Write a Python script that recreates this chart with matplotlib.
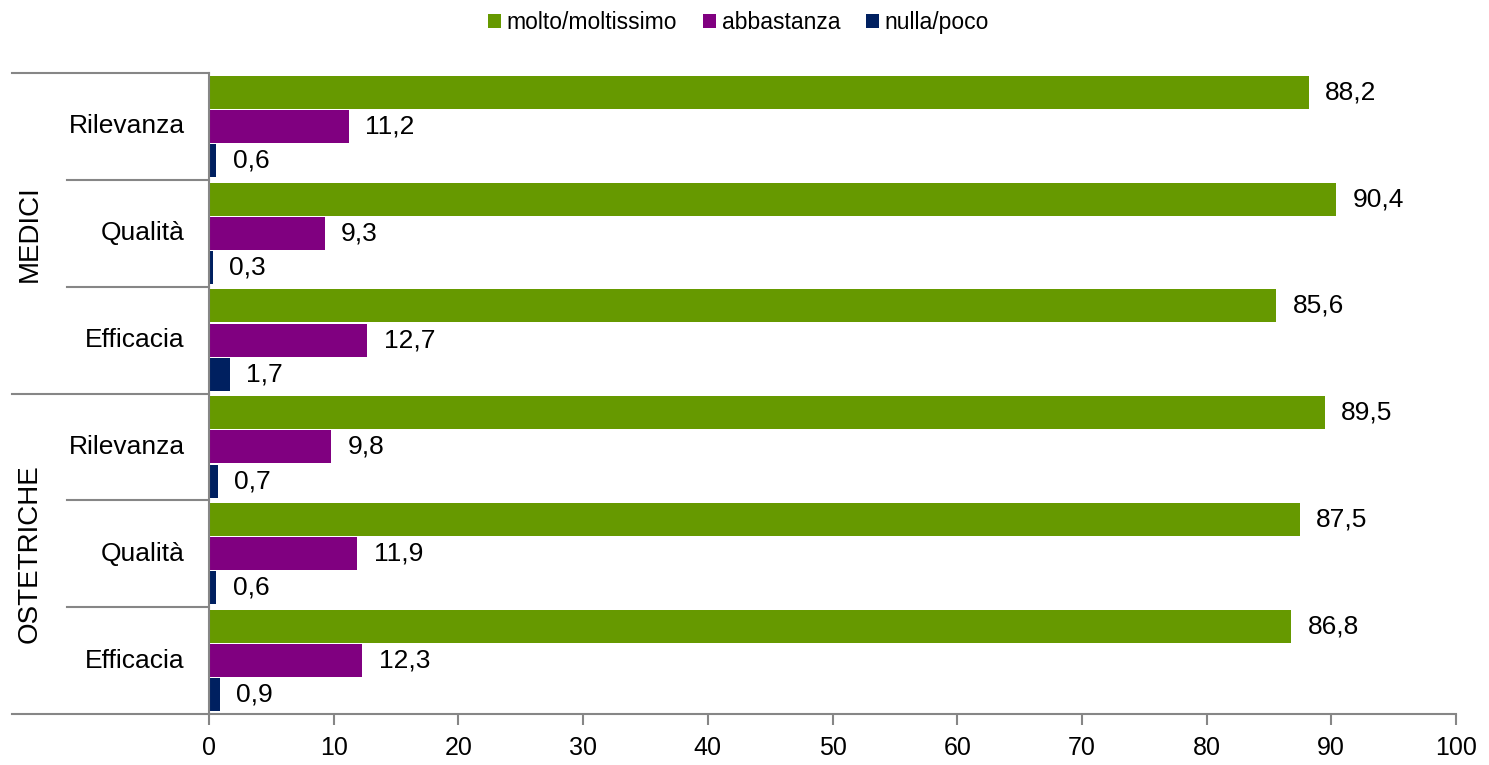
import numpy as np
import matplotlib
matplotlib.use("Agg")
import matplotlib.pyplot as plt
import matplotlib.transforms as mtransforms

plt.rcParams['font.family'] = ['Liberation Sans', 'DejaVu Sans']

groups = ["MEDICI", "OSTETRICHE"]
categories = ["Rilevanza", "Qualità", "Efficacia", "Rilevanza", "Qualità", "Efficacia"]
series = ["molto/moltissimo", "abbastanza", "nulla/poco"]
molto = [88.2, 90.4, 85.6, 89.5, 87.5, 86.8]
abbastanza = [11.2, 9.3, 12.7, 9.8, 11.9, 12.3]
nulla = [0.6, 0.3, 1.7, 0.7, 0.6, 0.9]
colors = ["#669900", "#800080", "#002060"]

grey = "#868686"
fig = plt.figure(figsize=(14.89, 7.65), dpi=100)
ax = fig.add_axes([209/1489, 1-714/765, 1247/1489, 641/765])

y = np.arange(len(categories))
h = 0.31
offs = [-0.32, 0.0, 0.32]
for vals, col, off, name in zip([molto, abbastanza, nulla], colors, offs, series):
    bars = ax.barh(y + off, vals, height=h, color=col, label=name)
    for b, v in zip(bars, vals):
        ax.text(v + 1.3, b.get_y() + b.get_height()/2, f"{v:.1f}".replace(".", ","),
                va="center", ha="left", fontsize=19)

ax.set_xlim(0, 100)
ax.set_ylim(len(categories) - 0.5, -0.5)
ax.set_xticks(np.arange(0, 101, 10))
ax.tick_params(axis="x", direction="out", length=8, width=1.5, color=grey,
               labelsize=18, pad=8)
ax.set_yticks([])
for s in ["top", "right"]:
    ax.spines[s].set_visible(False)
for s in ["left", "bottom"]:
    ax.spines[s].set_color(grey)
    ax.spines[s].set_linewidth(1.5)

trans = mtransforms.blended_transform_factory(ax.transAxes, ax.transData)
x_outer = (12 - 209) / 1247
x_inner = (67 - 209) / 1247
for i, cat in enumerate(categories):
    ax.text(-24/1247, i, cat, transform=trans, ha="right", va="center", fontsize=19)
for b in np.arange(-0.5, len(categories), 1.0):
    x0 = x_outer if (b + 0.5) % 3 == 0 else x_inner
    ax.plot([x0, 0], [b, b], transform=trans, color=grey, lw=1.5, clip_on=False)
for g, name in enumerate(groups):
    ax.text(x_outer + 18/1247, g*3 + 1, name, transform=trans, rotation=90,
            ha="center", va="center", fontsize=20)

fig.legend(loc="upper center", bbox_to_anchor=(0.496, 1.012), ncol=3, frameon=False,
           fontsize=16.5, handlelength=0.55, handleheight=0.55, handletextpad=0.25,
           columnspacing=1.15)

fig.savefig("out.png", dpi=100)
